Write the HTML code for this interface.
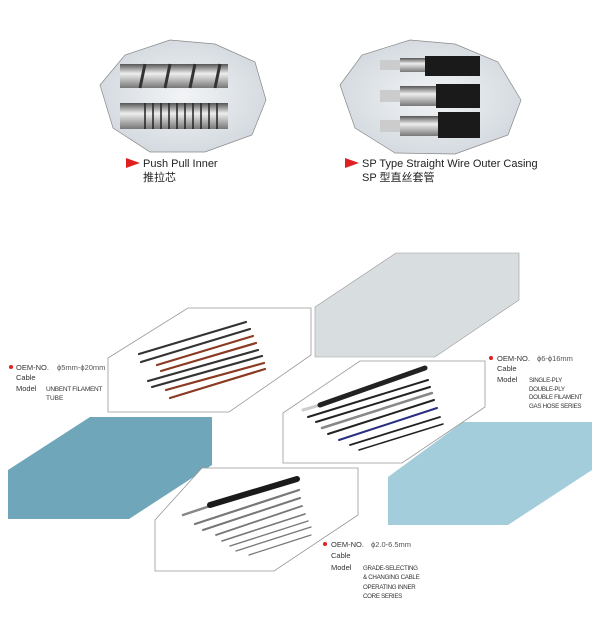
<!DOCTYPE html>
<html><head><meta charset="utf-8"><style>
html,body{margin:0;padding:0;background:#fff;}
body{width:600px;height:635px;overflow:hidden;position:relative;font-family:"Liberation Sans","Noto Sans CJK SC",sans-serif;}
svg{position:absolute;left:0;top:0;}
</style></head><body>
<svg width="600" height="635" viewBox="0 0 600 635" xmlns="http://www.w3.org/2000/svg">
<defs>
<radialGradient id="g1" cx="50%" cy="50%" r="60%"><stop offset="0" stop-color="#f2f4f6"/><stop offset="1" stop-color="#cfd6dc"/></radialGradient>
<linearGradient id="met" x1="0" y1="0" x2="0" y2="1"><stop offset="0" stop-color="#555"/><stop offset="0.4" stop-color="#eee"/><stop offset="1" stop-color="#777"/></linearGradient>
</defs>
<!-- top octagons -->
<polygon points="100,85 125,55 170,40 215,44 255,62 266,100 252,135 205,152 150,152 113,128" fill="url(#g1)" stroke="#888" stroke-width="0.7"/>
<polygon points="340,85 362,55 410,40 455,44 498,62 521,100 508,135 455,154 395,153 355,128" fill="url(#g1)" stroke="#888" stroke-width="0.7"/>
<!-- push pull inner -->
<rect x="120" y="64" width="108" height="24" fill="url(#met)"/>
<g stroke="#333" stroke-width="3"><line x1="145" y1="64" x2="140" y2="88"/><line x1="170" y1="64" x2="165" y2="88"/><line x1="195" y1="64" x2="190" y2="88"/><line x1="220" y1="64" x2="215" y2="88"/></g>
<rect x="120" y="103" width="108" height="26" fill="url(#met)"/>
<g stroke="#222" stroke-width="1.5"><line x1="145" y1="103" x2="145" y2="129"/><line x1="153" y1="103" x2="153" y2="129"/><line x1="161" y1="103" x2="161" y2="129"/><line x1="169" y1="103" x2="169" y2="129"/><line x1="177" y1="103" x2="177" y2="129"/><line x1="185" y1="103" x2="185" y2="129"/><line x1="193" y1="103" x2="193" y2="129"/><line x1="201" y1="103" x2="201" y2="129"/><line x1="209" y1="103" x2="209" y2="129"/><line x1="217" y1="103" x2="217" y2="129"/></g>
<!-- outer casing -->
<g>
<rect x="380" y="60" width="22" height="10" fill="#ccc"/><rect x="400" y="58" width="25" height="14" fill="url(#met)"/><rect x="425" y="56" width="55" height="20" fill="#1a1a1a"/>
<rect x="380" y="90" width="22" height="12" fill="#ccc"/><rect x="400" y="86" width="38" height="20" fill="url(#met)"/><rect x="436" y="84" width="44" height="24" fill="#1a1a1a"/>
<rect x="380" y="120" width="22" height="12" fill="#ccc"/><rect x="400" y="116" width="40" height="20" fill="url(#met)"/><rect x="438" y="112" width="42" height="26" fill="#1a1a1a"/>
</g>
<polygon points="126,158 140,163 126,168" fill="#e02020"/>
<text x="143" y="167" font-size="11" fill="#222">Push Pull Inner</text>
<text x="143" y="181" font-size="11" fill="#222">推拉芯</text>
<polygon points="345,158 359,163 345,168" fill="#e02020"/>
<text x="362" y="167" font-size="11" fill="#222">SP Type Straight Wire Outer Casing</text>
<text x="362" y="181" font-size="11" fill="#222">SP 型直丝套管</text>

<!-- lower hexes -->
<polygon points="315,307 396,253 519,253 519,300 435,357 315,357" fill="#d8dee0" stroke="#999" stroke-width="0.6"/>
<polygon points="108,358 188,308 311,308 311,355 229,412 108,412" fill="#fff" stroke="#999" stroke-width="0.8"/>
<polygon points="8,470 90,417 212,417 212,465 129,519 8,519" fill="#6fa6b9"/>
<polygon points="388,477 463,422 592,422 592,470 508,525 388,525" fill="#a4cddc"/>
<polygon points="283,413 360,361 485,361 485,407 402,463 283,463" fill="#fff" stroke="#999" stroke-width="0.8"/>
<polygon points="155,520 202,468 358,468 358,515 274,571 155,571" fill="#fff" stroke="#999" stroke-width="0.8"/>

<!-- cables 1 -->
<g stroke-width="2.2" stroke-linecap="round">
<line x1="139" y1="354" x2="246" y2="322" stroke="#333"/>
<line x1="141" y1="362" x2="250" y2="329" stroke="#333"/>
<line x1="157" y1="365" x2="253" y2="336" stroke="#8a3a22"/>
<line x1="161" y1="371" x2="256" y2="343" stroke="#8a3a22"/>
<line x1="148" y1="381" x2="258" y2="350" stroke="#333"/>
<line x1="152" y1="387" x2="262" y2="356" stroke="#333"/>
<line x1="166" y1="390" x2="264" y2="363" stroke="#8a3a22"/>
<line x1="170" y1="398" x2="265" y2="369" stroke="#8a3a22"/>
</g>
<!-- cables 2 -->
<g stroke-linecap="round">
<line x1="303" y1="410" x2="320" y2="405" stroke="#ccc" stroke-width="3"/>
<line x1="320" y1="405" x2="425" y2="368" stroke="#222" stroke-width="5"/>
<line x1="308" y1="417" x2="428" y2="380" stroke="#222" stroke-width="2"/>
<line x1="316" y1="422" x2="430" y2="387" stroke="#222" stroke-width="2"/>
<line x1="322" y1="428" x2="432" y2="393" stroke="#888" stroke-width="2.5"/>
<line x1="328" y1="434" x2="434" y2="400" stroke="#222" stroke-width="2"/>
<line x1="339" y1="440" x2="437" y2="408" stroke="#2a2e80" stroke-width="2"/>
<line x1="350" y1="445" x2="440" y2="417" stroke="#222" stroke-width="1.8"/>
<line x1="359" y1="450" x2="443" y2="424" stroke="#222" stroke-width="1.5"/>
</g>
<!-- cables 3 -->
<g stroke-linecap="round">
<line x1="183" y1="515" x2="210" y2="506" stroke="#888" stroke-width="2.5"/>
<line x1="210" y1="505" x2="297" y2="479" stroke="#1a1a1a" stroke-width="6"/>
<line x1="195" y1="524" x2="299" y2="490" stroke="#777" stroke-width="2.2"/>
<line x1="203" y1="530" x2="300" y2="498" stroke="#777" stroke-width="2"/>
<line x1="216" y1="535" x2="302" y2="506" stroke="#777" stroke-width="1.8"/>
<line x1="222" y1="541" x2="305" y2="514" stroke="#777" stroke-width="1.6"/>
<line x1="230" y1="546" x2="308" y2="521" stroke="#777" stroke-width="1.4"/>
<line x1="236" y1="551" x2="311" y2="527" stroke="#777" stroke-width="1.3"/>
<line x1="249" y1="555" x2="311" y2="535" stroke="#777" stroke-width="1.2"/>
</g>

<!-- labels -->
<g font-size="7.5" fill="#333">
<circle cx="11" cy="367" r="2" fill="#e02020"/>
<text x="16" y="370">OEM-NO.</text><text x="57" y="370" fill="#555">ϕ5mm-ϕ20mm</text>
<text x="16" y="380">Cable</text>
<text x="16" y="391">Model</text><text x="46" y="391" font-size="6.5" letter-spacing="-0.3">UNBENT FILAMENT</text>
<text x="46" y="400" font-size="6.5">TUBE</text>

<circle cx="491" cy="358" r="2" fill="#e02020"/>
<text x="497" y="361">OEM-NO.</text><text x="537" y="361" fill="#555">ϕ6-ϕ16mm</text>
<text x="497" y="371">Cable</text>
<text x="497" y="382">Model</text>
<g font-size="6.2" letter-spacing="-0.3"><text x="529" y="382">SINGLE-PLY</text><text x="529" y="391">DOUBLE-PLY</text><text x="529" y="399">DOUBLE FILAMENT</text><text x="529" y="408">GAS HOSE  SERIES</text></g>

<circle cx="325" cy="544" r="2" fill="#e02020"/>
<text x="331" y="547">OEM-NO.</text><text x="371" y="547" fill="#555">ϕ2.0-6.5mm</text>
<text x="331" y="558">Cable</text>
<text x="331" y="570">Model</text>
<g font-size="6.2" letter-spacing="-0.3"><text x="363" y="570">GRADE-SELECTING</text><text x="363" y="579">&amp; CHANGING CABLE</text><text x="363" y="589">OPERATING  INNER</text><text x="363" y="598">CORE  SERIES</text></g>
</g>
</svg>
</body></html>
